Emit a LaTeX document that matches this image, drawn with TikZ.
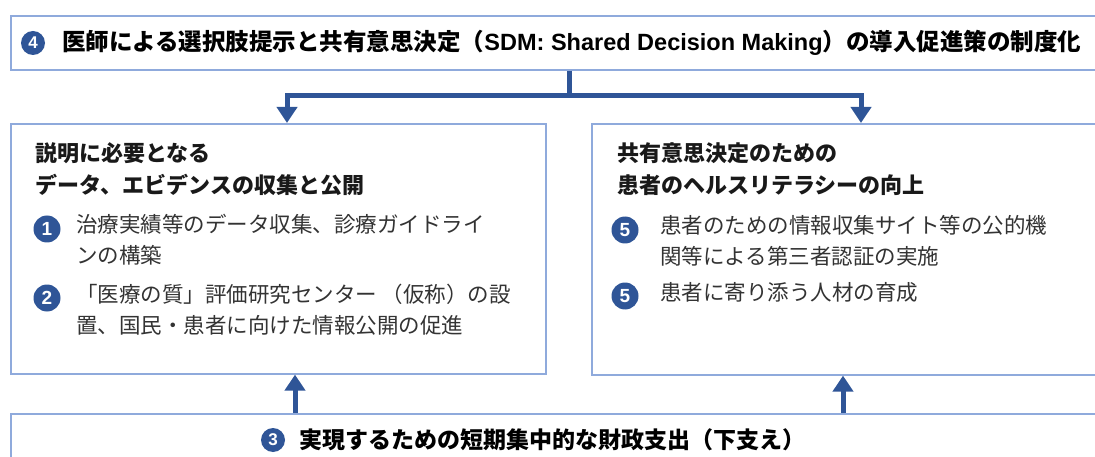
\documentclass[tikz,border=0pt]{standalone}
\usepackage{fontspec}
\setmainfont{Noto Sans CJK JP}
\newfontfamily\latin{Liberation Sans}
\usetikzlibrary{arrows.meta}
\definecolor{bord}{HTML}{8FAADC}
\definecolor{navy}{HTML}{2F5597}
\definecolor{txt}{HTML}{333333}
\tikzset{
  panel/.style={draw=bord, line width=1.6pt, fill=white, anchor=north west, inner sep=0pt},
  conn/.style={draw=navy, line width=5pt, -{Triangle[length=16pt,width=20pt]}},
  plain/.style={draw=navy, line width=5pt},
  num/.style={circle, fill=navy, text=white, font=\fontsize{19}{19}\selectfont\bfseries\latin, minimum width=27pt, minimum height=27pt, inner sep=0pt},
  numsm/.style={num, font=\fontsize{17}{17}\selectfont\bfseries\latin, minimum width=24pt, minimum height=24pt},
  head/.style={anchor=west, inner sep=0pt, font=\fontsize{23.5}{32}\selectfont\bfseries, text=black},
  ttl/.style={anchor=west, inner sep=0pt, align=left, font=\fontsize{22}{32}\selectfont\bfseries, text=black!90},
  item/.style={anchor=north west, inner sep=0pt, align=left, font=\fontsize{21.5}{31}\selectfont, text=txt},
}
\begin{document}
\begin{tikzpicture}[x=1pt,y=-1pt]
\useasboundingbox (0,0) rectangle (1095,457);
\clip (0,0) rectangle (1095,457);
% panels
\node[panel, minimum width=1100pt, minimum height=54pt] (top) at (10,15) {};
\node[panel, minimum width=535pt, minimum height=250pt] (lbox) at (10,123) {};
\node[panel, minimum width=520pt, minimum height=251pt] (rbox) at (591,123) {};
\node[panel, minimum width=1100pt, minimum height=60pt] (bot) at (10,413) {};
% header
\node[numsm] (n4) at (33,43) {4};
\node[head] (htext) at (62,43) {医師による選択肢提示と共有意思決定（{\latin SDM: Shared Decision Making}）の導入促進策の制度化};
% connectors
\coordinate (j) at (569,96);
\coordinate (la) at (287,0);
\coordinate (ra) at (861,0);
\draw[plain] (top.south -| j) -- (j);
\draw[conn] (j) -| (lbox.north -| la);
\draw[conn] (j) -| (rbox.north -| ra);
\coordinate (lu) at (295,0);
\coordinate (ru) at (843,0);
\draw[conn] (bot.north -| lu) -- (lbox.south -| lu);
\draw[conn] (bot.north -| ru) -- (rbox.south -| ru);
% left panel
\node[ttl] (lt) at (35,169) {説明に必要となる\\データ、エビデンスの収集と公開};
\node[num] (n1) at (47,229) {1};
\node[item] (i1) at (76,214) {治療実績等のデータ収集、診療ガイドライ\\ンの構築};
\node[num] (n2) at (47,298) {2};
\node[item] (i2) at (76,284) {「医療の質」評価研究センター （仮称）の設\\置、国民・患者に向けた情報公開の促進};
% right panel
\node[ttl] (rt) at (617,169) {共有意思決定のための\\患者のヘルスリテラシーの向上};
\node[num] (n5a) at (625,230) {5};
\node[item] (i5a) at (660,215) {患者のための情報収集サイト等の公的機\\関等による第三者認証の実施};
\node[num] (n5b) at (625,296) {5};
\node[item] (i5b) at (660,282) {患者に寄り添う人材の育成};
% bottom
\node[numsm] (n3) at (273,440) {3};
\node[head, font=\fontsize{23}{32}\selectfont\bfseries] (btext) at (299,440) {実現するための短期集中的な財政支出（下支え）};
\end{tikzpicture}
\end{document}
